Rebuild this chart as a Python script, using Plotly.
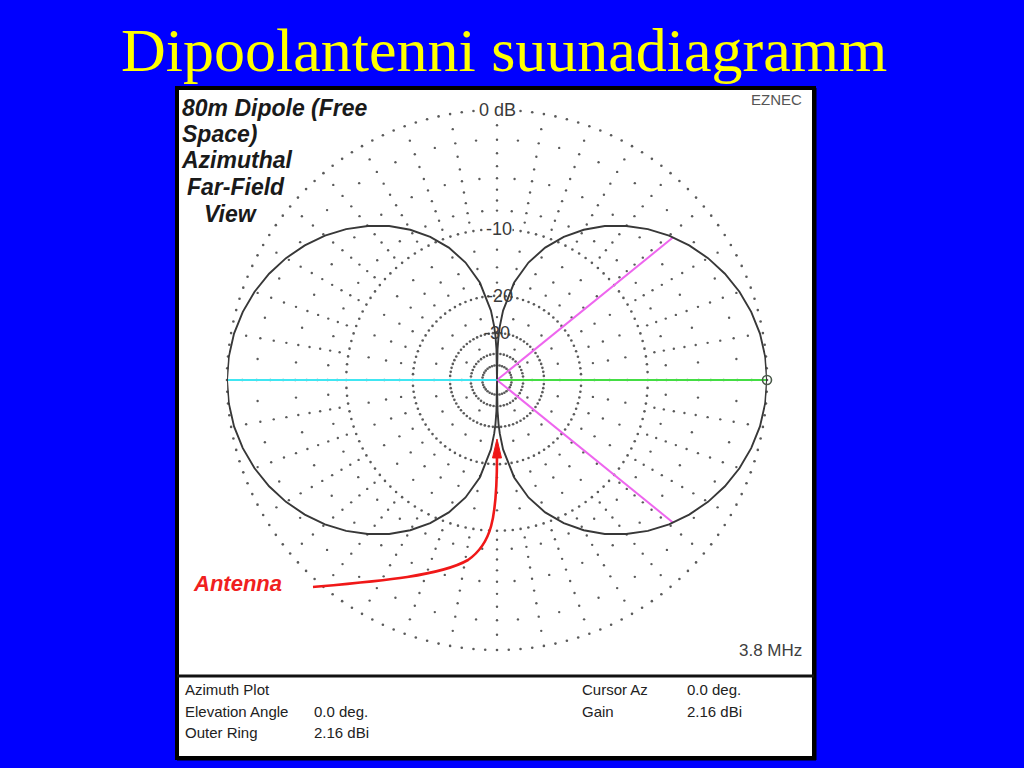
import numpy as np
import plotly.graph_objects as go

W, H = 1024, 768

# ---------------- data ----------------
title_text = "Dipoolantenni suunadiagramm"
caption_lines = ["80m Dipole (Free", "Space)", "Azimuthal", "Far-Field", "View"]
ring_labels = ["0 dB", "-10", "-20", "-30"]
ring_label_db = [0, -10, -20, -30]

# azimuth (deg) and gain relative to outer ring (dB)
pattern_az = [-90, -89, -88, -87, -85, -80, -75, -70, -65, -60, -55, -50, -45, -40, -35, -30, -25, -20, -15, -10, -5,
              0, 5, 10, 15, 20, 25, 30, 35, 40, 45, 50, 55, 60, 65, 70, 75, 80, 85, 87, 88, 89,
              90, 91, 92, 93, 95, 100, 105, 110, 115, 120, 125, 130, 135, 140, 145, 150, 155, 160, 165, 170, 175,
              180, 185, 190, 195, 200, 205, 210, 215, 220, 225, 230, 235, 240, 245, 250, 255, 260, 265, 267, 268, 269, 270]
pattern_db = [-99, -37.3, -31.2, -27.7, -23.25, -17.23, -13.69, -11.16, -9.20, -7.59, -6.22, -5.06, -4.04, -3.16, -2.41, -1.76, -1.22, -0.78, -0.44, -0.19, -0.05,
              0.0, -0.05, -0.19, -0.44, -0.78, -1.22, -1.76, -2.41, -3.16, -4.04, -5.06, -6.22, -7.59, -9.20, -11.16, -13.69, -17.23, -23.25, -27.7, -31.2, -37.3,
              -99, -37.3, -31.2, -27.7, -23.25, -17.23, -13.69, -11.16, -9.20, -7.59, -6.22, -5.06, -4.04, -3.16, -2.41, -1.76, -1.22, -0.78, -0.44, -0.19, -0.05,
              0.0, -0.05, -0.19, -0.44, -0.78, -1.22, -1.76, -2.41, -3.16, -4.04, -5.06, -6.22, -7.59, -9.20, -11.16, -13.69, -17.23, -23.25, -27.7, -31.2, -37.3, -99]

cursor_az = 0.0
cursor_db = 0.0
beam_az = [39, -39]
beam_db = [-3.0, -3.0]

info_left = [("Azimuth Plot", ""), ("Elevation Angle", "0.0 deg."), ("Outer Ring", "2.16 dBi")]
info_right = [("Cursor Az", "0.0 deg."), ("Gain", "2.16 dBi")]
freq_text = "3.8 MHz"
brand_text = "EZNEC"
antenna_text = "Antenna"


# ARRL log-periodic radial scale (0.89 per 2 dB)
def rscale(db):
    return 0.89 ** (-np.asarray(db, dtype=float) / 2.0)


def fx(x):
    return x / W


def fy(y):
    return 1 - y / H


fig = go.Figure()

DOT = "#5a5a5a"

# dense dotted rings
ring_levels = [0, -10, -20, -30, -40, -50]
ring_steps = [2.5, 3, 4, 5, 7.5, 10]
for lvl, st in zip(ring_levels, ring_steps):
    th = np.arange(0, 360, st)
    fig.add_trace(go.Scatterpolar(r=np.full(th.size, float(rscale(lvl))), theta=th, mode="markers",
                                  marker=dict(size=2.6, color=DOT), hoverinfo="skip", showlegend=False))

# sparse dots on spokes (level list, angular step, angular offset)
sparse = [(list(range(-1, -10, -1)), 10, 0), ([-2, -5, -8], 10, 5), ([-12.5, -15, -17.5], 10, 0),
          ([-25], 15, 0), ([-35], 30, 0)]
for lvls, st, off in sparse:
    rr, tt = [], []
    for l in lvls:
        for a in np.arange(off, 360 + off, st):
            rr.append(float(rscale(l)))
            tt.append(a)
    fig.add_trace(go.Scatterpolar(r=rr, theta=tt, mode="markers",
                                  marker=dict(size=2.4, color=DOT), hoverinfo="skip", showlegend=False))

# cyan & green lines
fig.add_trace(go.Scatterpolar(r=[0, float(rscale(0))], theta=[180, 180], mode="lines",
                              line=dict(color="#40E6F2", width=2), showlegend=False, hoverinfo="skip"))
fig.add_trace(go.Scatterpolar(r=[0, float(rscale(cursor_db))], theta=[cursor_az, cursor_az], mode="lines",
                              line=dict(color="#44DD44", width=2), showlegend=False, hoverinfo="skip"))
# beamwidth lines
for a, d in zip(beam_az, beam_db):
    fig.add_trace(go.Scatterpolar(r=[0, float(rscale(d))], theta=[a, a], mode="lines",
                                  line=dict(color="#EE66EE", width=2), showlegend=False, hoverinfo="skip"))

# pattern
fig.add_trace(go.Scatterpolar(r=rscale(pattern_db), theta=pattern_az, mode="lines",
                              line=dict(color="#383838", width=1.9), showlegend=False, hoverinfo="skip"))

# cursor marker
fig.add_trace(go.Scatterpolar(r=[float(rscale(cursor_db))], theta=[cursor_az], mode="markers",
                              marker=dict(size=9, color="rgba(0,0,0,0)", line=dict(color="#4a5a4a", width=1.6)),
                              showlegend=False, hoverinfo="skip"))

cx, cy, R = 497, 380, 270
fig.update_layout(
    width=W, height=H,
    margin=dict(l=0, r=0, t=0, b=0),
    paper_bgcolor="#0000FF",
    plot_bgcolor="#0000FF",
    polar=dict(
        domain=dict(x=[fx(cx - R), fx(cx + R)], y=[fy(cy + R), fy(cy - R)]),
        bgcolor="rgba(0,0,0,0)",
        radialaxis=dict(visible=False, range=[0, 1]),
        angularaxis=dict(visible=False, rotation=0, direction="counterclockwise"),
    ),
)

shapes = []
# white panel
shapes.append(dict(type="rect", xref="paper", yref="paper", x0=fx(177), x1=fx(814), y0=fy(758), y1=fy(88),
                   fillcolor="white", line=dict(color="black", width=4), layer="below"))
# extra shadow on right/bottom
shapes.append(dict(type="line", xref="paper", yref="paper", x0=fx(815), x1=fx(815), y0=fy(760), y1=fy(88),
                   line=dict(color="black", width=3), layer="below"))
shapes.append(dict(type="line", xref="paper", yref="paper", x0=fx(177), x1=fx(816), y0=fy(759), y1=fy(759),
                   line=dict(color="black", width=3), layer="below"))
# separator above info area
shapes.append(dict(type="line", xref="paper", yref="paper", x0=fx(177), x1=fx(814), y0=fy(676), y1=fy(676),
                   line=dict(color="#111111", width=3), layer="below"))


def P(x, y):
    return f"{fx(x):.5f},{fy(y):.5f}"


arrow_path = (f"M {P(313, 587)} C {P(380, 581)} {P(440, 576)} {P(468, 560)} "
              f"C {P(491, 544)} {P(497, 520)} {P(497, 456)}")
shapes.append(dict(type="path", xref="paper", yref="paper", path=arrow_path,
                   line=dict(color="#F01818", width=2.6), layer="above"))
head = f"M {P(492.5, 458)} L {P(501.5, 458)} L {P(497, 439)} Z"
shapes.append(dict(type="path", xref="paper", yref="paper", path=head,
                   fillcolor="#F01818", line=dict(color="#F01818", width=1), layer="above"))

fig.update_layout(shapes=shapes)

ann = []
# title
ann.append(dict(text=title_text, x=fx(504), y=fy(50), xref="paper", yref="paper", showarrow=False,
                xanchor="center", yanchor="middle",
                font=dict(family="Liberation Serif", size=62, color="#FFFF00")))

# caption (bold italic)
cap_pos = [(180, 108, "left"), (180, 134, "left"), (179, 160, "left"), (236, 187, "center"), (231, 214, "center")]
for t, (x, y, anc) in zip(caption_lines, cap_pos):
    ann.append(dict(text=f"<b><i>{t}</i></b>", x=fx(x), y=fy(y), xref="paper", yref="paper", showarrow=False,
                    xanchor=anc, yanchor="middle",
                    font=dict(family="Liberation Sans", size=23, color="#1a1a1a")))

# ring labels
lab_x = [497, 499, 500, 497]
for t, d, x in zip(ring_labels, ring_label_db, lab_x):
    ypix = cy - R * float(rscale(d))
    bg = "white" if d >= -10 else "rgba(0,0,0,0)"
    ann.append(dict(text=t, x=fx(x), y=fy(ypix), xref="paper", yref="paper", showarrow=False,
                    xanchor="center", yanchor="middle", bgcolor=bg, borderpad=0,
                    font=dict(family="Liberation Sans", size=18, color="#3a3a3a")))

ann.append(dict(text=brand_text, x=fx(804), y=fy(99), xref="paper", yref="paper", showarrow=False,
                xanchor="right", yanchor="middle",
                font=dict(family="Liberation Sans", size=15, color="#555555")))
ann.append(dict(text=freq_text, x=fx(804), y=fy(650), xref="paper", yref="paper", showarrow=False,
                xanchor="right", yanchor="middle",
                font=dict(family="Liberation Sans", size=17, color="#404040")))
ann.append(dict(text=f"<b><i>{antenna_text}</i></b>", x=fx(191), y=fy(583), xref="paper", yref="paper",
                showarrow=False, xanchor="left", yanchor="middle",
                font=dict(family="Liberation Sans", size=22, color="#F02020")))

info_y = [689, 711, 732]
for (lab, val), y in zip(info_left, info_y):
    ann.append(dict(text=lab, x=fx(183), y=fy(y), xref="paper", yref="paper", showarrow=False,
                    xanchor="left", yanchor="middle",
                    font=dict(family="Liberation Sans", size=15, color="#222222")))
    if val:
        ann.append(dict(text=val, x=fx(312), y=fy(y), xref="paper", yref="paper", showarrow=False,
                        xanchor="left", yanchor="middle",
                        font=dict(family="Liberation Sans", size=15, color="#222222")))
for (lab, val), y in zip(info_right, info_y):
    ann.append(dict(text=lab, x=fx(580), y=fy(y), xref="paper", yref="paper", showarrow=False,
                    xanchor="left", yanchor="middle",
                    font=dict(family="Liberation Sans", size=15, color="#222222")))
    ann.append(dict(text=val, x=fx(685), y=fy(y), xref="paper", yref="paper", showarrow=False,
                    xanchor="left", yanchor="middle",
                    font=dict(family="Liberation Sans", size=15, color="#222222")))

fig.update_layout(annotations=ann)

fig.write_html("out.html", config={"displayModeBar": False},
               post_script="document.body.style.margin='0';document.body.style.overflow='hidden';")
